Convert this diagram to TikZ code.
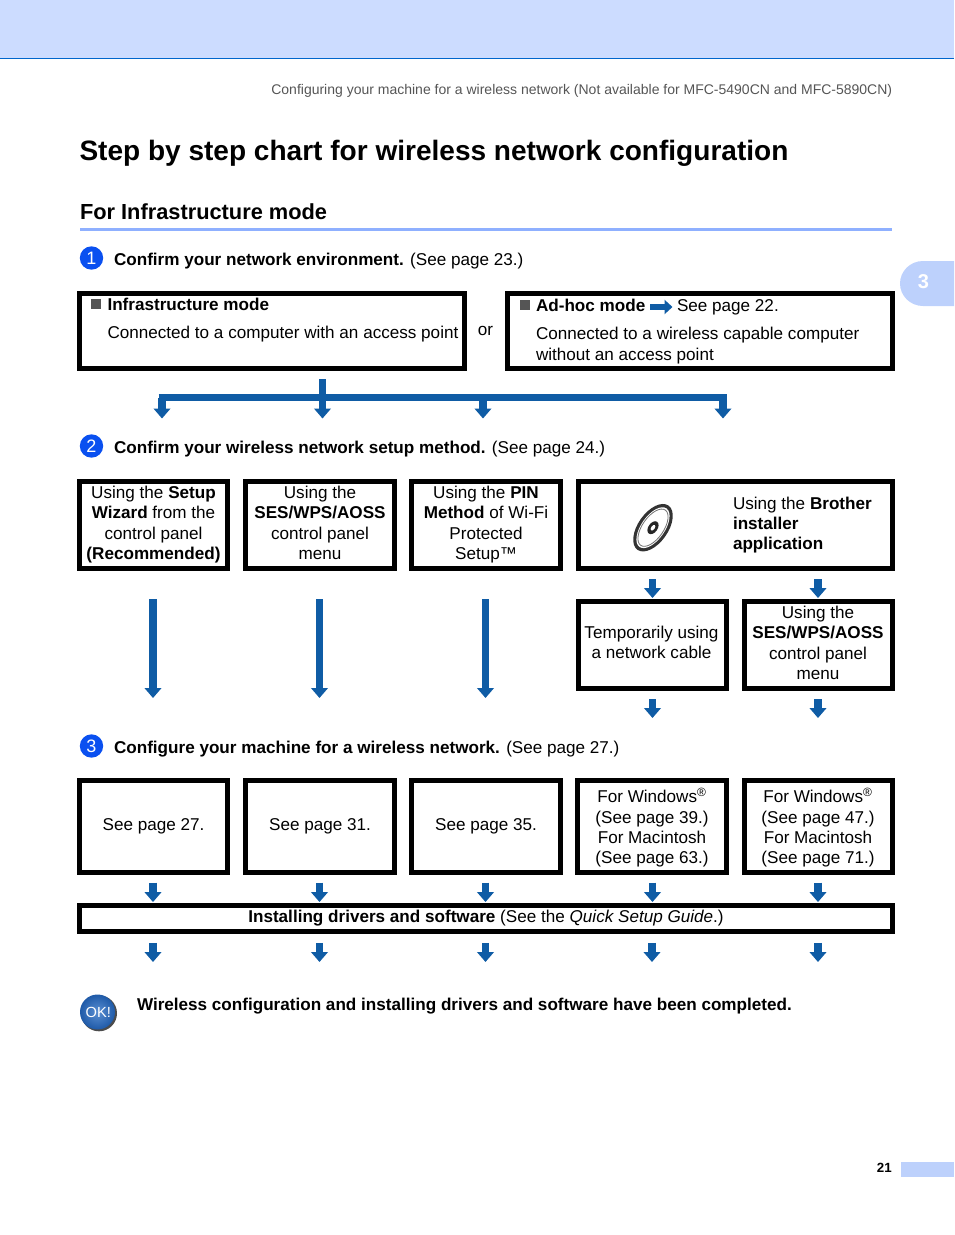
\documentclass[tikz,border=0pt]{standalone}
\usepackage{fontspec}
\setmainfont{Liberation Sans}
\usetikzlibrary{arrows.meta,shadings}
\definecolor{flowblue}{HTML}{0F5CA5}
\definecolor{bandblue}{HTML}{CCDCFF}
\definecolor{linkblue}{HTML}{0066CC}
\definecolor{rulblue}{HTML}{8FB0FF}
\definecolor{tabblue}{HTML}{BDD1FC}
\definecolor{stepblue}{HTML}{0A50F0}
\definecolor{grayhead}{HTML}{555555}
\definecolor{okin}{HTML}{5A8FD2}
\definecolor{okout}{HTML}{1F5AA8}
\newcommand{\bodyfs}{\fontsize{12.83pt}{15pt}\selectfont}
\tikzset{
  x=.75pt,y=-.75pt,
  box/.style={draw=black,line width=3.75pt,fill=white,inner sep=0pt,outer sep=0pt,align=center,font=\bodyfs},
  flow/.style={draw=flowblue,line width=5.6pt,-{Triangle[width=12.4pt,length=7.5pt]}},
  txt/.style={anchor=base west,inner sep=0pt,outer sep=0pt,font=\bodyfs,text=black},
  bul/.style={fill=grayhead,minimum size=7.5pt,inner sep=0pt,outer sep=0pt},
  stepnum/.style={circle,fill=stepblue,text=white,minimum size=17.5pt,inner sep=0pt,font=\fontsize{13.5pt}{14pt}\selectfont},
}
\begin{document}
\begin{tikzpicture}
\useasboundingbox (0,0) rectangle (954,1235);
% page furniture
\fill[bandblue] (0,0) rectangle (954,58);
\fill[linkblue] (0,58) rectangle (954,59);
\fill[tabblue] (954,261) -- (923,261) arc[start angle=90,end angle=270,x radius=23,y radius=-22.5] -- (954,306) -- cycle;
\node[anchor=center,text=white,font=\bfseries\fontsize{15pt}{16pt}\selectfont] (tabnum) at (923.5,282) {3};
\node[anchor=base east,inner sep=0pt,text=grayhead,font=\fontsize{10.5pt}{12pt}\selectfont] (head) at (892.5,94) {Configuring your machine for a wireless network (Not available for MFC-5490CN and MFC-5890CN)};
\node[txt,font=\bfseries\fontsize{21.03pt}{24pt}\selectfont] (title) at (79.5,160) {Step by step chart for wireless network configuration};
\node[txt,font=\bfseries\fontsize{16.35pt}{20pt}\selectfont] (sub) at (80,219) {For Infrastructure mode};
\fill[rulblue] (80,228) rectangle (892,231);
\fill[tabblue] (901,1162) rectangle (954,1177);
\node[anchor=base east,inner sep=0pt,font=\bfseries\fontsize{10pt}{12pt}\selectfont] (pagenum) at (892,1172) {21};

% step 1
\node[stepnum] (s1) at (91.5,258) {1};
\node[txt] (s1t) at (114,265) {\textbf{Confirm your network environment.} (See page 23.)};
\node[box,minimum width=288.75pt,minimum height=56.25pt] (infra) at (272,331) {};
\node[box,minimum width=288.75pt,minimum height=56.25pt] (adhoc) at (700,331) {};
\node[bul] (b1) at (96,304) {};
\node[txt] (i1) at (107.5,310) {\textbf{Infrastructure mode}};
\node[txt] (i2) at (107.5,338) {Connected to a computer with an access point};
\node[txt,anchor=center] (or) at (485.5,331) {or};
\node[bul] (b2) at (525,305) {};
\node[txt] (a1) at (536,311) {\textbf{Ad-hoc mode}};
\coordinate (ara) at (650,307);
\coordinate (arb) at (672.5,307);
\draw[draw=flowblue,line width=3.8pt,-{Triangle[width=10.5pt,length=6pt]}] (ara) -- (arb);
\node[txt] (a2) at (677,311) {See page 22.};
\node[txt] (a3) at (536,339) {Connected to a wireless capable computer};
\node[txt] (a4) at (536,360) {without an access point};

% branching connector
\coordinate (tr) at (322.5,379);
\coordinate (j1) at (162.5,397.5);
\coordinate (j2) at (322.5,397.5);
\coordinate (j3) at (483,397.5);
\coordinate (j4) at (723,397.5);
\coordinate (t1) at (162,418.5);
\coordinate (t2) at (322.5,418.5);
\coordinate (t3) at (483,418.5);
\coordinate (t4) at (723,418.5);
\draw[draw=flowblue,line width=5.2pt] (158.5,397.5) -- (726.5,397.5);
\draw[flow] (j1 -| t1) -- (t1);
\draw[flow] (tr) -- (t2);
\draw[flow] (j3) -- (t3);
\draw[flow] (j4) -- (t4);

% step 2
\node[stepnum] (s2) at (91.5,446) {2};
\node[txt] (s2t) at (114,453) {\textbf{Confirm your wireless network setup method.} (See page 24.)};
\node[box,minimum width=111pt,minimum height=65.25pt] (wiz) at (153.5,525) {};
\node[box,minimum width=111.75pt,minimum height=65.25pt] (ses) at (320,525) {};
\node[box,minimum width=111.75pt,minimum height=65.25pt] (pin) at (486,525) {};
\node[box,minimum width=235.5pt,minimum height=65.25pt] (bro) at (735.5,525) {};
\node[anchor=center,align=center,font=\bodyfs,inner sep=0pt] (wizt) at (153.5,524.5) {Using the \textbf{Setup}\\[.3pt]\textbf{Wizard} from the\\[.3pt]control panel\\[.3pt]\textbf{(Recommended)}};
\node[anchor=center,align=center,font=\bodyfs,inner sep=0pt] (sest) at (320,523) {Using the\\[.3pt]\textbf{SES/WPS/AOSS}\\[.3pt]control panel\\[.3pt]menu};
\node[anchor=center,align=center,font=\bodyfs,inner sep=0pt] (pint) at (486,524.5) {Using the \textbf{PIN}\\[.3pt]\textbf{Method} of Wi-Fi\\[.3pt]Protected\\[.3pt]Setup™};
\node[txt] (br1) at (733,509) {Using the \textbf{Brother}};
\node[txt] (br2) at (733,529) {\textbf{installer}};
\node[txt] (br3) at (733,549) {\textbf{application}};
% disc
\begin{scope}[shift={(653,527.7)},rotate=-35]
\fill[black!80] (0,0) ellipse (15 and 27);
\fill[white] (0,0) ellipse (11.8 and 23.5);
\draw[black!55,line width=.6pt] (0,0) ellipse (10.6 and 21.5);
\fill[black!85] (0,0) ellipse (4.6 and 7.2);
\fill[white] (0,0) ellipse (1.8 and 3.2);
\end{scope}

\node[box,minimum width=111pt,minimum height=65.25pt] (tmp) at (652.5,645) {};
\node[box,minimum width=111pt,minimum height=65.25pt] (ses2) at (818.5,645) {};
\node[anchor=center,align=center,font=\bodyfs,inner sep=0pt] (tmpt) at (651.5,642.5) {Temporarily using\\[.3pt]a network cable};
\node[anchor=center,align=center,font=\bodyfs,inner sep=0pt] (ses2t) at (818,643) {Using the\\[.3pt]\textbf{SES/WPS/AOSS}\\[.3pt]control panel\\[.3pt]menu};

% step 3
\node[stepnum] (s3) at (91.5,746) {3};
\node[txt] (s3t) at (114,753) {\textbf{Configure your machine for a wireless network.} (See page 27.)};
\node[box,minimum width=111pt,minimum height=69pt] (p27) at (153.5,826.5) {See page 27.};
\node[box,minimum width=111.75pt,minimum height=69pt] (p31) at (320,826.5) {See page 31.};
\node[box,minimum width=111.75pt,minimum height=69pt] (p35) at (486,826.5) {See page 35.};
\node[box,minimum width=111.75pt,minimum height=69pt] (w1) at (652,826.5) {};
\node[box,minimum width=111pt,minimum height=69pt] (w2) at (818.5,826.5) {};
\node[anchor=center,align=center,font=\bodyfs,inner sep=0pt] (w1t) at (652,828) {For Windows\textsuperscript{®}\\[.3pt](See page 39.)\\[.3pt]For Macintosh\\[.3pt](See page 63.)};
\node[anchor=center,align=center,font=\bodyfs,inner sep=0pt] (w2t) at (818,828) {For Windows\textsuperscript{®}\\[.3pt](See page 47.)\\[.3pt]For Macintosh\\[.3pt](See page 71.)};
\node[box,minimum width=609.75pt,minimum height=19.5pt] (bar) at (486,918.5) {};
\node[anchor=base,inner sep=0pt,font=\bodyfs] (bart) at (486,922) {\textbf{Installing drivers and software} (See the \textit{Quick Setup Guide}.)};

% long arrows
\coordinate (e1) at (153,698);
\coordinate (e2) at (319.5,698);
\coordinate (e3) at (485.5,698);
\draw[flow,shorten <=22.9pt] (wiz.south -| e1) -- (e1);
\draw[flow,shorten <=22.9pt] (ses.south -| e2) -- (e2);
\draw[flow,shorten <=22.9pt] (pin.south -| e3) -- (e3);
% short arrows between boxes
\coordinate (c4) at (652.5,0);
\coordinate (c5) at (818,0);
\draw[flow,shorten <=7.9pt,shorten >=2.6pt] (bro.south -| c4) -- (tmp.north -| c4);
\draw[flow,shorten <=7.9pt,shorten >=2.6pt] (bro.south -| c5) -- (ses2.north -| c5);
\coordinate (f4) at (652.5,718);
\coordinate (f5) at (818,718);
\draw[flow,shorten <=7.9pt] (tmp.south -| f4) -- (f4);
\draw[flow,shorten <=7.9pt] (ses2.south -| f5) -- (f5);
\coordinate (c1) at (153,0);
\coordinate (c2) at (319.5,0);
\coordinate (c3) at (485.5,0);
\draw[flow,shorten <=7.5pt,shorten >=2.6pt] (p27.south -| c1) -- (bar.north -| c1);
\draw[flow,shorten <=7.5pt,shorten >=2.6pt] (p31.south -| c2) -- (bar.north -| c2);
\draw[flow,shorten <=7.5pt,shorten >=2.6pt] (p35.south -| c3) -- (bar.north -| c3);
\draw[flow,shorten <=7.5pt,shorten >=2.6pt] (w1.south -| c4) -- (bar.north -| c4);
\draw[flow,shorten <=7.5pt,shorten >=2.6pt] (w2.south -| c5) -- (bar.north -| c5);
\coordinate (g1) at (153,962);
\coordinate (g2) at (319.5,962);
\coordinate (g3) at (485.5,962);
\coordinate (g4) at (652,962);
\coordinate (g5) at (818,962);
\foreach \g in {g1,g2,g3,g4,g5}
  \draw[flow,shorten <=8.6pt] (bar.south -| \g) -- (\g);

% finish
\fill[black!70] (99,1013.3) circle[radius=18];
\shade[inner color=okin,outer color=okout] (97.5,1012) circle[radius=17.5];
\node[text=white,inner sep=0pt,font=\fontsize{11pt}{12pt}\selectfont] (ok) at (98.3,1012.5) {OK!};
\node[txt,font=\bfseries\bodyfs] (done) at (137,1010) {Wireless configuration and installing drivers and software have been completed.};
\end{tikzpicture}
\end{document}
